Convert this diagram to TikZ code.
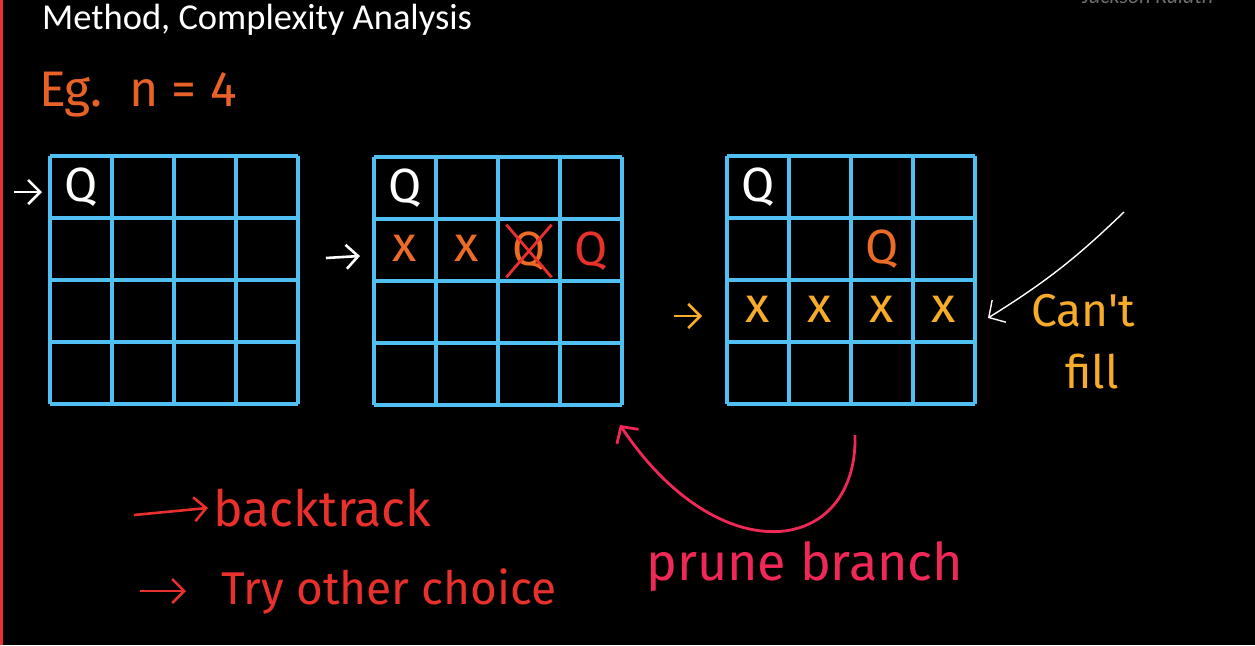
\documentclass[tikz,border=0pt]{standalone}
\usepackage{fontspec}
\setmainfont{Carlito}
\newfontfamily\handfont{Fira Sans}
\usetikzlibrary{positioning,arrows.meta}

\definecolor{gridblue}{RGB}{80,192,242}
\definecolor{egorange}{RGB}{232,98,40}
\definecolor{markorange}{RGB}{236,108,38}
\definecolor{failyellow}{RGB}{246,172,40}
\definecolor{backred}{RGB}{232,48,44}
\definecolor{prunepink}{RGB}{240,40,88}
\definecolor{wmgray}{RGB}{110,110,110}

\tikzset{
  gridline/.style={draw=gridblue, line width=3.4pt, step=62pt},
  queen/.style={font=\handfont\fontsize{48}{48}\selectfont, inner sep=0pt},
  xmark/.style={font=\handfont\fontsize{50}{50}\selectfont, inner sep=0pt},
  handtext/.style={font=\handfont\fontsize{44}{44}\selectfont, inner sep=1pt, anchor=base west},
  handarrow/.style={line width=2.6pt, -{Straight Barb[length=12pt,width=24pt]}},
}

\begin{document}
\begin{tikzpicture}[x=1pt,y=-1pt]
\useasboundingbox (0,0) rectangle (1255,645);
\fill[black] (0,0) rectangle (1255,645);
\draw[backred, line width=3pt] (1,0) -- (1,645);

% heading
\node[anchor=base west, text=white, font=\fontsize{36.5}{36.5}\selectfont, inner sep=0pt] (title) at (42,29) {Method, Complexity Analysis};
\node[anchor=base west, text=wmgray, font=\itshape\fontsize{22}{22}\selectfont, inner sep=0pt] (wm) at (1082,4) {Jackson Kulath};
\node[handtext, text=egorange, font=\handfont\fontsize{50}{50}\selectfont] (eg) at (38,106) {Eg.};
\node[handtext, text=egorange, font=\handfont\fontsize{50}{50}\selectfont, right=24pt of eg.base east, anchor=base west] (neq) {n = 4};

% boards
\draw[gridline, shift={(50,156)}] (0,0) grid (248.1,248.1);
\draw[gridline, shift={(374,157)}] (0,0) grid (248.1,248.1);
\draw[gridline, shift={(727,156)}] (0,0) grid (248.1,248.1);

% board 1
\node[queen, text=white] (q1) at (81,187) {Q};
\coordinate (in1) at (14,192);
\coordinate (in1end) at (42,192);
\draw[handarrow, white] (in1) -- (in1end);

% board 2
\node[queen, text=white] (q2) at (405,188) {Q};
\node[xmark, text=markorange] (x20) at (405,248) {x};
\node[xmark, text=markorange] (x21) at (467,248) {x};
\node[queen, text=markorange] (q2bad) at (529,251) {Q};
\draw[backred, line width=2.8pt, shorten <=-9pt, shorten >=-9pt] (q2bad.north west) -- (q2bad.south east);
\draw[backred, line width=2.8pt, shorten <=-9pt, shorten >=-9pt] (q2bad.north east) -- (q2bad.south west);
\node[queen, text=backred] (q2ok) at (591,251) {Q};
\coordinate (in2a) at (326,258);
\coordinate (in2b) at (360,256);
\draw[handarrow, white] (in2a) -- (in2b);

% board 3
\node[queen, text=white] (q3) at (758,187) {Q};
\node[queen, text=markorange] (q3b) at (882,249) {Q};
\foreach \c in {0,...,3}
  \node[xmark, text=failyellow] (x3\c) at (758+62*\c,309) {x};
\coordinate (in3a) at (674,316);
\coordinate (in3b) at (702,316);
\draw[handarrow, failyellow] (in3a) -- (in3b);

% can't fill
\node[handtext, text=failyellow, font=\handfont\fontsize{46}{46}\selectfont] (cant) at (1030,326) {Can't};
\node[handtext, text=failyellow, font=\handfont\fontsize{46}{46}\selectfont] (fill) at (1064,388) {fill};
\coordinate (ptr) at (1124,212);
\coordinate (ptrend) at (988,318);
\draw[white, line width=1.4pt, -{Straight Barb[length=12pt,width=26pt]}] (ptr) to[bend left=6] (ptrend);

% backtrack
\node[handtext, text=backred, font=\handfont\fontsize{50}{50}\selectfont] (backtrack) at (212,526) {backtrack};
\coordinate (bt) at (134,515);
\draw[handarrow, backred, shorten >=4pt] (bt) -- (backtrack.west);
\node[handtext, text=backred, font=\handfont\fontsize{46}{46}\selectfont] (trychoice) at (220,604) {Try other choice};
\coordinate (tc1) at (140,591);
\coordinate (tc2) at (186,591);
\draw[handarrow, backred] (tc1) -- (tc2);

% prune
\node[handtext, text=prunepink, font=\handfont\fontsize{52}{52}\selectfont] (prune) at (645,580) {prune branch};
\coordinate (pr1) at (855,435);
\coordinate (pr2) at (620,425);
\draw[prunepink, line width=2.8pt, -{Straight Barb[length=12pt,width=26pt]}] (pr1) .. controls (858,555) and (720,575) .. (pr2);
\end{tikzpicture}
\end{document}
